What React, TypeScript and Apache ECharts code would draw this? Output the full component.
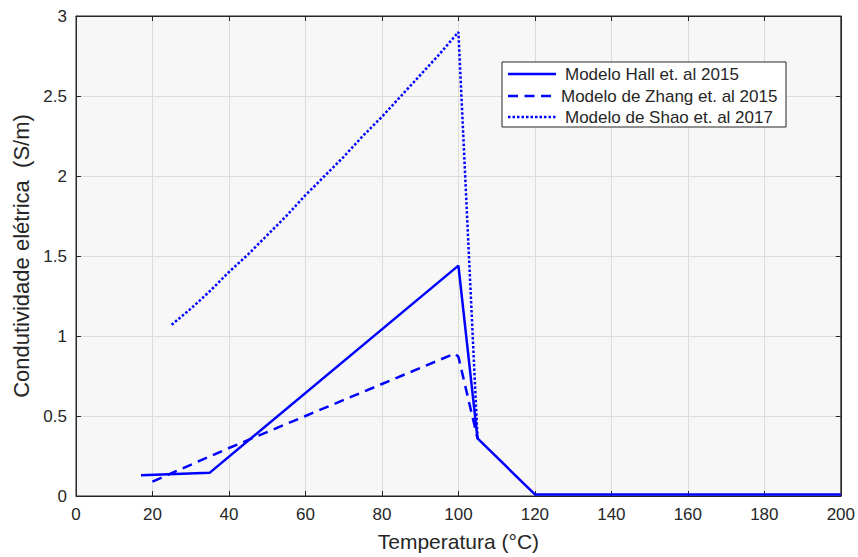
import React, { useEffect, useRef } from "react";
import * as echarts from "echarts";

// Temperature (°C) and electrical conductivity (S/m) for each model
const hallTemp = [17, 35, 100, 105, 120, 200];
const hallCond = [0.13, 0.146, 1.44, 0.36, 0.01, 0.01];

const zhangTemp = [20, 40, 60, 80, 99, 100, 105];
const zhangCond = [0.09, 0.3, 0.5, 0.7, 0.89, 0.87, 0.36];

const shaoTemp = [25, 30, 35, 40, 45, 50, 55, 60, 65, 70, 75, 80, 85, 90, 95, 100, 105];
const shaoCond = [1.07, 1.17, 1.28, 1.4, 1.51, 1.63, 1.75, 1.88, 2.0, 2.12, 2.25, 2.37, 2.5, 2.63, 2.76, 2.9, 0.36];

const xTicks = { min: 0, max: 200, interval: 20 };
const yTicks = { min: 0, max: 3, interval: 0.5 };

const seriesNames = [
  "Modelo Hall et. al 2015",
  "Modelo de Zhang et. al 2015",
  "Modelo de Shao et. al 2017",
];

const zip = (xs: number[], ys: number[]) => xs.map((x, i) => [x, ys[i]]);

const BLUE = "#0000ff";
const INK = "#262626";
const FONT = "'Liberation Sans', Arial, Helvetica, sans-serif";

export default function App() {
  const ref = useRef<HTMLDivElement>(null);

  useEffect(() => {
    if (!ref.current) return;
    const chart = echarts.init(ref.current, undefined, { renderer: "svg" });

    const tickStyle = { inside: true, length: 5, lineStyle: { color: INK, width: 1 } };
    const label = { color: INK, fontSize: 17, fontFamily: FONT };

    // Legend drawn as a boxed panel with line samples
    const legX = 502;
    const legY = 62;
    const rows = [
      { y: 74, dash: null as number[] | null, textX: 565 },
      { y: 96, dash: [10, 6.5], textX: 561 },
      { y: 117, dash: [2.5, 2], textX: 565 },
    ];
    const legendGraphics: any[] = [
      {
        type: "rect",
        shape: { x: legX, y: legY, width: 284, height: 65 },
        style: { fill: "#ffffff", stroke: INK, lineWidth: 1 },
        z: 100,
      },
    ];
    rows.forEach((r, i) => {
      legendGraphics.push({
        type: "line",
        shape: { x1: 508, y1: r.y, x2: 556, y2: r.y },
        style: { stroke: BLUE, lineWidth: 2.5, lineDash: r.dash || undefined },
        z: 101,
      });
      legendGraphics.push({
        type: "text",
        x: r.textX,
        y: r.y,
        style: {
          text: seriesNames[i],
          fill: INK,
          font: `17px ${FONT}`,
          verticalAlign: "middle",
          align: "left",
        },
        z: 101,
      });
    });

    chart.setOption({
      animation: false,
      backgroundColor: "#ffffff",
      grid: {
        left: 76,
        right: 17,
        top: 16,
        bottom: 61,
        show: true,
        backgroundColor: "#f7f7f7",
        borderColor: INK,
        borderWidth: 1,
      },
      xAxis: [
        {
          type: "value",
          ...xTicks,
          position: "bottom",
          name: "Temperatura (°C)",
          nameLocation: "middle",
          nameGap: 35,
          nameTextStyle: { color: INK, fontSize: 21, fontFamily: FONT },
          axisLine: { show: true, onZero: false, lineStyle: { color: INK } },
          axisTick: tickStyle,
          axisLabel: { ...label, margin: 10 },
          splitLine: { show: true, lineStyle: { color: "#dcdcdc", width: 1 } },
        },
        {
          type: "value",
          ...xTicks,
          position: "top",
          axisLine: { show: true, onZero: false, lineStyle: { color: INK } },
          axisTick: tickStyle,
          axisLabel: { show: false },
          splitLine: { show: false },
        },
      ],
      yAxis: [
        {
          type: "value",
          ...yTicks,
          position: "left",
          name: "Condutividade elétrica  (S/m)",
          nameLocation: "middle",
          nameGap: 44,
          nameTextStyle: { color: INK, fontSize: 22, fontFamily: FONT },
          axisLine: { show: true, onZero: false, lineStyle: { color: INK } },
          axisTick: tickStyle,
          axisLabel: { ...label, margin: 9 },
          splitLine: { show: true, lineStyle: { color: "#dcdcdc", width: 1 } },
        },
        {
          type: "value",
          ...yTicks,
          position: "right",
          axisLine: { show: true, onZero: false, lineStyle: { color: INK } },
          axisTick: tickStyle,
          axisLabel: { show: false },
          splitLine: { show: false },
        },
      ],
      series: [
        {
          name: seriesNames[0],
          type: "line",
          data: zip(hallTemp, hallCond),
          showSymbol: false,
          symbol: "none",
          lineStyle: { color: BLUE, width: 2.5, type: "solid" },
        },
        {
          name: seriesNames[1],
          type: "line",
          data: zip(zhangTemp, zhangCond),
          showSymbol: false,
          symbol: "none",
          lineStyle: { color: BLUE, width: 2.5, type: [10, 6.5] },
        },
        {
          name: seriesNames[2],
          type: "line",
          data: zip(shaoTemp, shaoCond),
          showSymbol: false,
          symbol: "none",
          lineStyle: { color: BLUE, width: 2.5, type: [2.5, 2] },
        },
      ],
      graphic: legendGraphics,
    });

    return () => chart.dispose();
  }, []);

  return <div ref={ref} style={{ width: 858, height: 557, position: "absolute", left: 0, top: 0 }} />;
}
